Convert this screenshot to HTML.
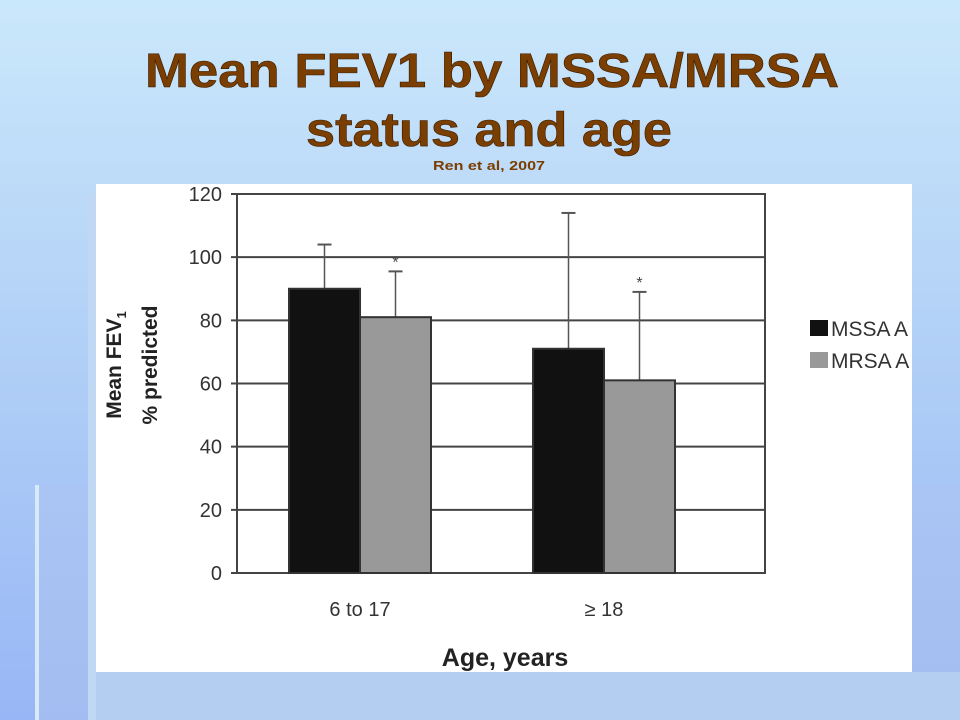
<!DOCTYPE html>
<html><head><meta charset="utf-8"><style>
html,body{margin:0;padding:0;width:960px;height:720px;overflow:hidden}
body{background:linear-gradient(180deg,#cbe8fb 0%,#b5d4f7 40%,#98b6f5 100%);font-family:"Liberation Sans",sans-serif}
</style></head><body>
<svg width="960" height="720" viewBox="0 0 960 720" xmlns="http://www.w3.org/2000/svg">
<defs>
<linearGradient id="band" x1="0" y1="0" x2="0" y2="1"><stop offset="0" stop-color="#aac4f3"/><stop offset="1" stop-color="#a3bdf2"/></linearGradient>
<clipPath id="panelClip"><rect x="96" y="184" width="816" height="488"/></clipPath>
</defs>
<rect x="35" y="485" width="925" height="235" fill="url(#band)"/>
<rect x="35" y="485" width="4" height="235" fill="#d8eaf8"/>
<rect x="88" y="195" width="8" height="525" fill="#c0d8f4"/>
<rect x="96" y="672" width="864" height="48" fill="#b4cef2"/>
<g font-weight="bold" text-anchor="middle" fill="#7a3e00">
<text x="492" y="87" font-size="48" textLength="694" lengthAdjust="spacingAndGlyphs" stroke="#3a1a00" stroke-width="0.6">Mean FEV1 by MSSA/MRSA</text>
<text x="489" y="146" font-size="48" textLength="366" lengthAdjust="spacingAndGlyphs" stroke="#3a1a00" stroke-width="0.6">status and age</text>
<text x="489" y="170" font-size="13" textLength="112" lengthAdjust="spacingAndGlyphs">Ren et al, 2007</text>
</g>
<rect x="96" y="184" width="816" height="488" fill="#fff"/>
<g id="chart" clip-path="url(#panelClip)"></g>
</svg>
<script>
const categories = ["6 to 17", "\u2265 18"];
const seriesNames = ["MSSA", "MRSA"];
const mssaValues = [90, 71];
const mrsaValues = [81, 61];
const mssaErrors = [104, 114];
const mrsaErrors = [95.5, 89];
const yTicks = [0, 20, 40, 60, 80, 100, 120];

const NS = "http://www.w3.org/2000/svg";
const g = document.getElementById("chart");
const X0 = 237, X1 = 765, Y0 = 573, Y1 = 194, YMAX = 120;
const y = v => Y0 - (v / YMAX) * (Y0 - Y1);
const groupCenter = i => 360 + i * 244;
const barW = 71;
function mk(tag, attrs, parent) {
  const e = document.createElementNS(NS, tag);
  for (const k in attrs) e.setAttribute(k, attrs[k]);
  (parent || g).appendChild(e);
  return e;
}
// gridlines and ticks
yTicks.forEach(t => {
  const l = mk("line", {x1: X0 - 6, x2: X1, y1: y(t), y2: y(t), stroke: "#444", "stroke-width": 2});
  
  
  const tx = mk("text", {x: 222, y: y(t) + 7, "text-anchor": "end", "font-size": 20, fill: "#333"});
  tx.textContent = t;
  
  
});
const frame = mk("rect", {x: X0, y: Y1, width: X1 - X0, height: Y0 - Y1, fill: "none", stroke: "#444", "stroke-width": 2});


// bars
const series = [[mssaValues, mssaErrors, "#111"], [mrsaValues, mrsaErrors, "#999"]];
categories.forEach((c, i) => {
  series.forEach((s, j) => {
    const bx = groupCenter(i) - barW + j * barW;
    const v = s[0][i], e = s[1][i];
    const cx = bx + barW / 2;
    const el = mk("line", {x1: cx, x2: cx, y1: y(v), y2: y(e), stroke: "#555", "stroke-width": 1.5});
    
    
    const cap = mk("line", {x1: cx - 7, x2: cx + 7, y1: y(e), y2: y(e), stroke: "#555", "stroke-width": 2});
    
    
    const r = mk("rect", {x: bx, y: y(v), width: barW, height: Y0 - y(v), fill: s[2], stroke: "#333", "stroke-width": 2});
    
    
    if (j === 1) {
      const st = mk("text", {x: cx, y: y(e) - 4, "text-anchor": "middle", "font-size": 16, fill: "#444"});
      st.textContent = "*";
      
      
    }
  });
  const lb = mk("text", {x: groupCenter(i), y: 616, "text-anchor": "middle", "font-size": 20, fill: "#333"});
  lb.textContent = c;
  
  
});
const xt = mk("text", {x: 505, y: 666, "text-anchor": "middle", "font-size": 25, "font-weight": "bold", fill: "#222"});
xt.textContent = "Age, years";


const yt1 = mk("text", {transform: "translate(121,365) rotate(-90)", "text-anchor": "middle", "font-size": 21, "font-weight": "bold", fill: "#222"});
yt1.innerHTML = 'Mean FEV<tspan font-size="13" dy="5">1</tspan>';


const yt2 = mk("text", {transform: "translate(157,365) rotate(-90)", "text-anchor": "middle", "font-size": 21, "font-weight": "bold", fill: "#222"});
yt2.textContent = "% predicted";


// legend
["#111", "#999"].forEach((col, j) => {
  const ly = 320 + j * 32;
  const b = mk("rect", {x: 810, y: ly, width: 18, height: 16, fill: col});
  
  
  const t = mk("text", {x: 831, y: ly + 16, "font-size": 21, fill: "#333"});
  t.textContent = seriesNames[j] + " A";
  
  
});
</script>
</body></html>
